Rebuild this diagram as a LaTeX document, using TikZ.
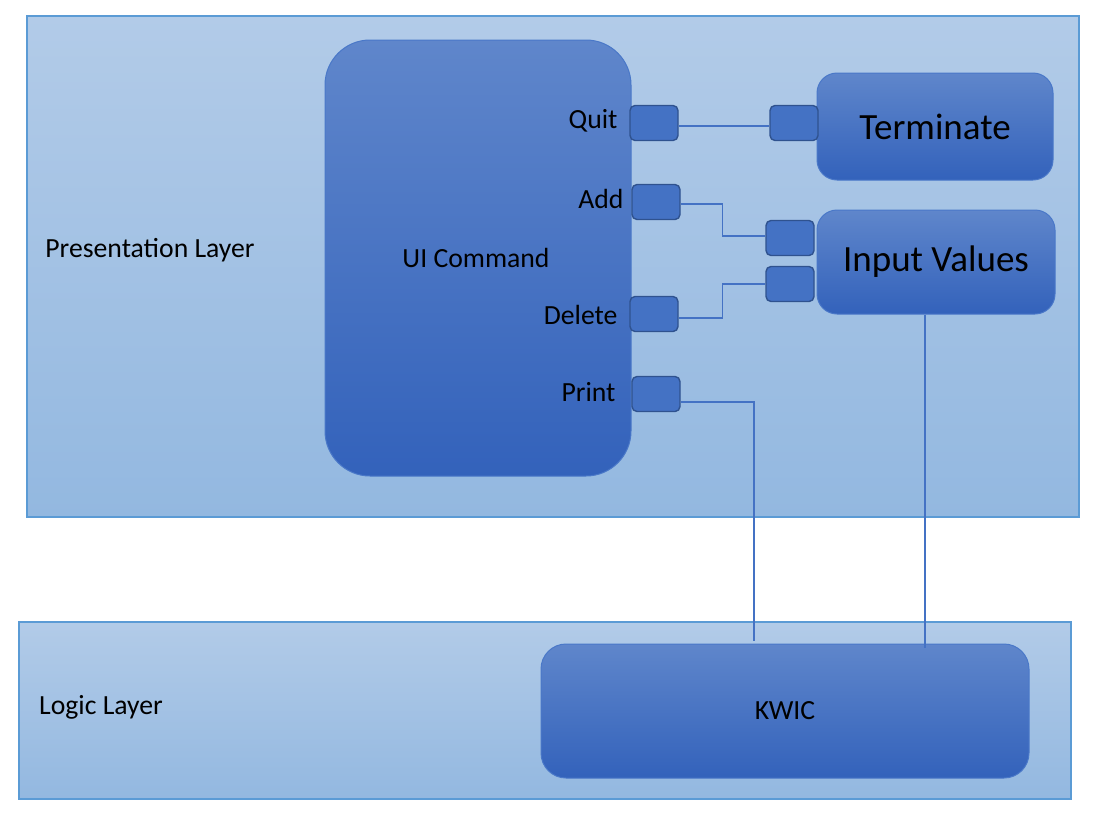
\documentclass[tikz,border=0pt]{standalone}
\usepackage{fontspec}
\setmainfont{Carlito}
\usetikzlibrary{calc}
\definecolor{layerTop}{HTML}{B2CBE8}
\definecolor{layerBot}{HTML}{93B8E0}
\definecolor{layerLine}{HTML}{5B9BD5}
\definecolor{boxTop}{HTML}{5F86CB}
\definecolor{boxBot}{HTML}{3362BB}
\definecolor{boxLine}{HTML}{4A78C8}
\definecolor{portFill}{HTML}{4472C4}
\definecolor{portLine}{HTML}{2F528F}
\definecolor{connCol}{HTML}{4472C4}
\tikzset{
  layer/.style={draw=layerLine, line width=1.2pt, top color=layerTop, bottom color=layerBot, inner sep=0pt},
  bigbox/.style={draw=boxLine, line width=1pt, top color=boxTop, bottom color=boxBot, inner sep=0pt},
  port/.style={draw=portLine, line width=1.4pt, fill=portFill, rounded corners=5pt, minimum width=48pt, minimum height=35pt, inner sep=0pt},
  conn/.style={draw=connCol, line width=1.2pt},
  smalltxt/.style={font=\fontsize{27.7}{33}\selectfont, text=black},
  bigtxt/.style={font=\fontsize{37}{44}\selectfont, text=black},
}
\begin{document}
\begin{tikzpicture}[x=1pt,y=-1pt]
\useasboundingbox (0,0) rectangle (1102,828);
% layers
\node[layer, minimum width=1052pt, minimum height=501pt] (pres) at (553,266.5) {};
\node[layer, minimum width=1052pt, minimum height=177pt] (logic) at (545,710.5) {};
\node[smalltxt] (preslbl) at (150,250) {Presentation Layer};
\node[smalltxt] (logiclbl) at (101,707) {Logic Layer};
% UI command
\node[bigbox, rounded corners=45pt, minimum width=306pt, minimum height=436pt] (ui) at (478,258) {};
\node[smalltxt] (uilbl) at (476,258) {UI Command};
% Terminate and Input Values
\node[bigbox, rounded corners=20pt, minimum width=236pt, minimum height=107pt, bigtxt] (term) at (935,126.5) {Terminate};
\node[bigbox, rounded corners=20pt, minimum width=238pt, minimum height=104pt, bigtxt] (iv) at (936,262) {Input Values};
% KWIC
\node[bigbox, rounded corners=25pt, minimum width=488pt, minimum height=134pt, smalltxt] (kwic) at (785,711) {KWIC};
% ports
\node[port] (pq) at (654,123) {};
\node[port] (pa) at (656,202) {};
\node[port] (pd) at (654,314) {};
\node[port] (pp) at (656,394) {};
\node[port] (pt) at (794,123) {};
\node[port] (pi1) at (790,238) {};
\node[port] (pi2) at (790,284) {};
% port labels
\node[smalltxt, anchor=east] (lq) at (621,121) {Quit};
\node[smalltxt, anchor=east] (la) at (627,199) {Add};
\node[smalltxt, anchor=east] (ld) at (621,315) {Delete};
\node[smalltxt, anchor=east] (lp) at (619,392) {Print};
% connectors
\coordinate (kp) at (754,641);
\coordinate (kiv) at (925,648);
\draw[conn] ($(pq.east)+(0,3)$) -- ($(pt.west)+(0,3)$);
\draw[conn] ($(pa.east)+(0,2)$) -- ++(42,0) |- ($(pi1.west)+(0,-2)$);
\draw[conn] ($(pd.east)+(0,4)$) -- ++(44,0) |- (pi2.west);
\draw[conn] ($(pp.east)+(0,8)$) -| (kp);
\draw[conn] (iv.south -| kiv) -- (kiv);
\end{tikzpicture}
\end{document}
